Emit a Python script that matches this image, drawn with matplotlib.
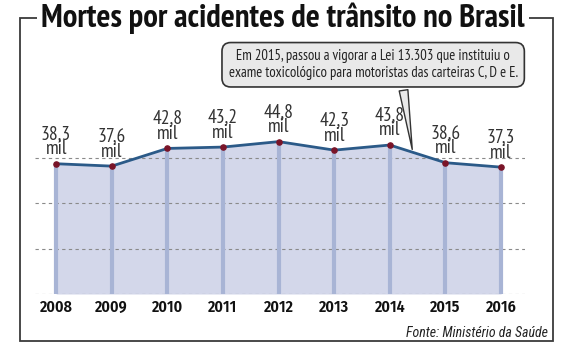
import matplotlib.pyplot as plt
import matplotlib.transforms as mtransforms
from matplotlib.patches import Rectangle

plt.rcParams['font.family'] = ['PT Sans Narrow', 'DejaVu Sans']

years = [2008, 2009, 2010, 2011, 2012, 2013, 2014, 2015, 2016]
deaths = [38.3, 37.6, 42.8, 43.2, 44.8, 42.3, 43.8, 38.6, 37.3]
grid_levels = [13.33, 26.67, 40.0]

title = 'Mortes por acidentes de trânsito no Brasil'
note = ('Em 2015, passou a vigorar a Lei 13.303 que instituiu o\n'
        'exame toxicológico para motoristas das carteiras C, D e E.')
source = 'Fonte: Ministério da Saúde'

fig = plt.figure(figsize=(5.63, 3.57), dpi=100)
W, H = 563, 357

# outer frame
fig.patches.append(Rectangle((20 / W, 1 - 341 / H), 533 / W, 323 / H,
                             transform=fig.transFigure, fill=False,
                             ec='#3a3a3a', lw=1.3))
fig.text(283 / W, 1 - 18 / H, title, ha='center', va='center', fontsize=23.5,
         fontweight='bold', color='#111111',
         bbox=dict(fc='white', ec='none', pad=3))

ax = fig.add_axes([35 / W, 1 - 294 / H, 490 / W, 234 / H])
ax.set_xlim(2007.62, 2016.43)
ax.set_ylim(0, 68.8)

ax.fill_between(years, deaths, 0, color='#d3d7ea', lw=0, zorder=1)
for g in [0] + grid_levels:
    ax.axhline(g, color='#8a8a8a', lw=0.8, ls=(0, (3, 3)), zorder=2)
ax.vlines(years, 0, deaths, color='#a8b4d5', lw=3, zorder=3)
ax.plot(years, deaths, color='#2b5a88', lw=2, zorder=4)
ax.scatter(years, deaths, color='#7a1428', s=14, zorder=5)

for yr, v in zip(years, deaths):
    lbl = f'{v:.1f}'.replace('.', ',') + '\nmil'
    ax.annotate(lbl, xy=(yr, v), xytext=(0, 4), textcoords='offset points',
                ha='center', va='bottom', fontsize=14, color='#333333',
                linespacing=0.8)

ax.annotate(note, xy=(2014.41, 41.7), xytext=(2013.70, 67.4),
            textcoords='data', ha='center', va='center', fontsize=10.5,
            color='#222222', linespacing=1.3,
            bbox=dict(boxstyle='round,pad=0.45,rounding_size=0.6',
                      fc='#e9e9e9', ec='#333333', lw=1.2),
            arrowprops=dict(arrowstyle='wedge,tail_width=0.6',
                            fc='#e9e9e9', ec='#333333', lw=1,
                            relpos=(0.6, 0.0)),
            zorder=6)

# year labels on a common baseline
trans = mtransforms.blended_transform_factory(ax.transData, fig.transFigure)
for yr in years:
    ax.text(yr, 1 - 312 / H, str(yr), transform=trans, ha='center',
            va='baseline', fontsize=11.5, fontweight='semibold',
            color='#111111', family=['Fira Sans Condensed', 'DejaVu Sans'])

ax.set_xticks([])
ax.set_yticks([])
for s in ax.spines.values():
    s.set_visible(False)

fig.text(548 / W, 1 - 333 / H, source, ha='right', va='center',
         fontsize=10, style='italic', color='#222222',
         family=['Roboto Condensed', 'DejaVu Sans'])

fig.savefig('out.png', dpi=100)
